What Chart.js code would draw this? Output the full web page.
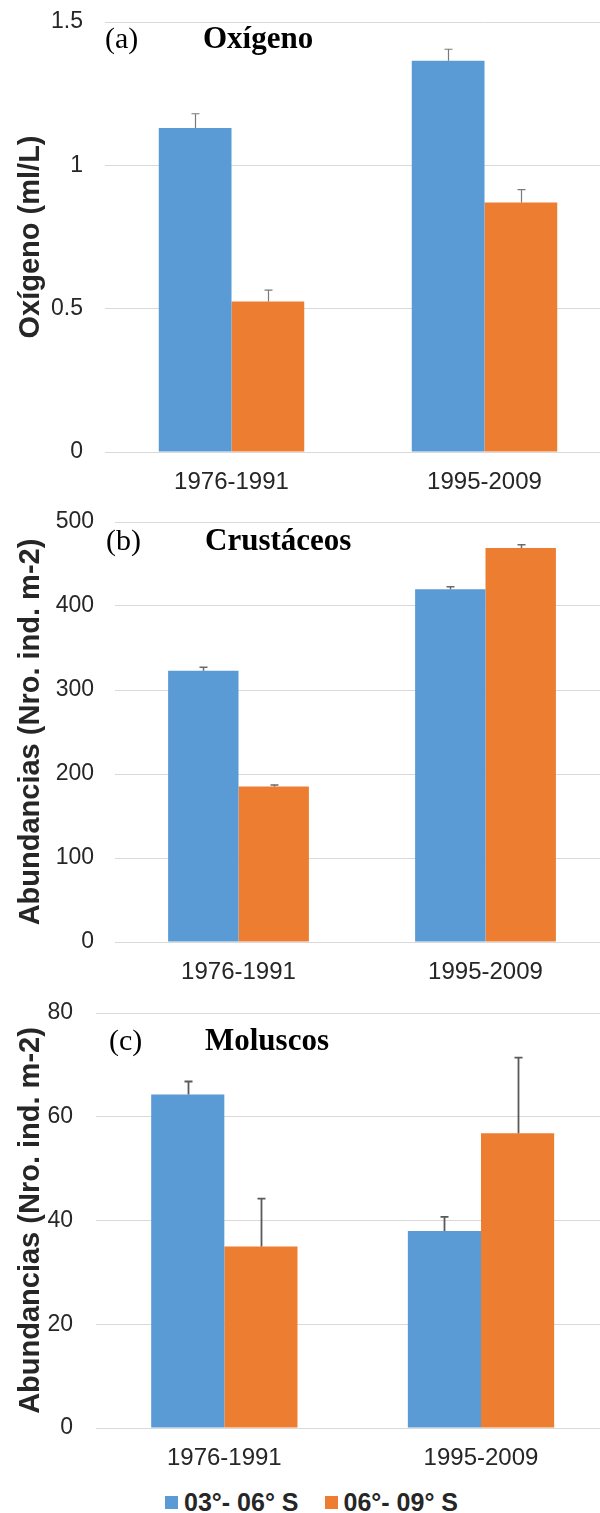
<!DOCTYPE html>
<html>
<head>
<meta charset="utf-8">
<script src="https://cdn.jsdelivr.net/npm/chart.js@4/dist/chart.umd.min.js"></script>
<style>
  html, body { margin: 0; padding: 0; background: #fff; width: 600px; height: 1513px; overflow: hidden; position: relative; }
  .panel { position: absolute; left: 0; }
  #legend { position: absolute; left: 165px; top: 1488px; display: flex; align-items: center;
            font: bold 25px "Liberation Sans", Arial, sans-serif; color: #262626; white-space: nowrap; }
  .item { display: flex; align-items: center; margin-right: 26px; }
  .swatch { width: 13px; height: 13px; margin-right: 6px; }
</style>
</head>
<body>
<div class="panel" style="top:0px"><canvas id="oxygen" width="864" height="500"></canvas></div>
<div class="panel" style="top:500px"><canvas id="crustaceans" width="856" height="490"></canvas></div>
<div class="panel" style="top:990px"><canvas id="molluscs" width="866" height="486"></canvas></div>
<div id="legend"></div>
<script>
// Sampling periods and latitude bands
const periods = ['1976-1991', '1995-2009'];
const seriesNames = ['03°- 06° S', '06°- 09° S'];
const seriesColors = ['#5b9bd5', '#ed7d31'];

// (a) dissolved oxygen, ml/L
const oxygenNorth = [1.13, 1.365];
const oxygenSouth = [0.525, 0.87];
const oxygenNorthErr = [0.05, 0.04];
const oxygenSouthErr = [0.04, 0.045];

// (b) crustacean abundance, ind. m-2
const crustNorth = [323, 420];
const crustSouth = [185, 469];
const crustNorthErr = [4, 3];
const crustSouthErr = [2, 4];

// (c) mollusc abundance, ind. m-2
const molluscNorth = [64.3, 38.0];
const molluscSouth = [35.0, 56.8];
const molluscNorthErr = [2.5, 2.7];
const molluscSouthErr = [9.2, 14.6];

const SANS = '"Liberation Sans", Arial, sans-serif';
const SERIF = '"Liberation Serif", "Times New Roman", serif';
const TEXT = '#262626';

// Upper error whiskers read from each dataset's errorValues
const errorBars = {
  id: 'errorBars',
  afterDatasetsDraw(chart, args, opts) {
    const { ctx } = chart;
    const yScale = chart.scales.y;
    chart.data.datasets.forEach((ds, di) => {
      const meta = chart.getDatasetMeta(di);
      meta.data.forEach((bar, i) => {
        const v = ds.data[i], e = ds.errorValues ? ds.errorValues[i] : null;
        if (v == null || e == null) return;
        const x = Math.round(bar.x) + 0.5;
        const y0 = yScale.getPixelForValue(v);
        const y1 = yScale.getPixelForValue(v + e);
        ctx.save();
        ctx.strokeStyle = opts.color;
        ctx.lineWidth = opts.width;
        ctx.beginPath();
        ctx.moveTo(x, y0); ctx.lineTo(x, y1);
        ctx.moveTo(x - 4, y1); ctx.lineTo(x + 4, y1);
        ctx.stroke();
        ctx.restore();
      });
    });
  }
};

// Panel tag and bold heading inside the plot
const panelLabel = {
  id: 'panelLabel',
  afterDraw(chart, args, opts) {
    const { ctx } = chart;
    ctx.save();
    ctx.fillStyle = '#000';
    ctx.textBaseline = 'alphabetic';
    ctx.textAlign = 'left';
    ctx.font = `30px ${SERIF}`;
    ctx.fillText(opts.tag, opts.tagX, opts.baseline);
    ctx.font = `bold 31px ${SERIF}`;
    ctx.fillText(opts.heading, opts.headingX, opts.baseline);
    ctx.restore();
  }
};

function makePanel(id, cfg) {
  return new Chart(document.getElementById(id), {
    type: 'bar',
    data: {
      // the empty trailing slot keeps the plot running past the right edge
      labels: [...periods, ''],
      datasets: [
        { label: seriesNames[0], data: cfg.north, errorValues: cfg.northErr, backgroundColor: seriesColors[0] },
        { label: seriesNames[1], data: cfg.south, errorValues: cfg.southErr, backgroundColor: seriesColors[1] }
      ]
    },
    options: {
      responsive: false,
      animation: false,
      layout: { padding: { top: cfg.padTop, left: 0, right: 0, bottom: 0 } },
      datasets: { bar: { categoryPercentage: cfg.catPct, barPercentage: 1.0, borderWidth: 0 } },
      plugins: {
        legend: { display: false },
        tooltip: { enabled: false },
        errorBars: { color: cfg.errColor, width: cfg.errWidth },
        panelLabel: { tag: cfg.tag, heading: cfg.heading, tagX: cfg.tagX, headingX: cfg.headingX, baseline: cfg.baseline }
      },
      scales: {
        x: {
          grid: { display: false, drawTicks: false },
          border: { display: false },
          ticks: { font: { family: SANS, size: 24 }, color: TEXT, padding: 16, maxRotation: 0, autoSkip: false },
          afterFit: s => { s.height = cfg.xAxisH; }
        },
        y: {
          min: 0, max: cfg.max,
          ticks: { stepSize: cfg.step, font: { family: SANS, size: 23 }, color: TEXT, padding: cfg.tickPad,
                   callback: v => String(+v.toFixed(2)) },
          grid: { color: '#d9d9d9', lineWidth: 1, drawTicks: false },
          border: { display: false },
          title: { display: true, text: cfg.yTitle, color: TEXT,
                   font: { family: SANS, size: 29, weight: 'bold' }, padding: { top: 14, bottom: 0 } },
          // fixed axis width; the top gap comes from layout padding alone
          afterFit: s => { s.width = cfg.leftW; s.paddingTop = 0; s.paddingBottom = 0; }
        }
      }
    },
    plugins: [errorBars, panelLabel]
  });
}

makePanel('oxygen', {
  north: oxygenNorth, south: oxygenSouth, northErr: oxygenNorthErr, southErr: oxygenSouthErr,
  max: 1.5, step: 0.5, yTitle: 'Oxígeno (ml/L)',
  padTop: 22, xAxisH: 48, leftW: 105, tickPad: 22, catPct: 0.575,
  errColor: '#7a7a7a', errWidth: 1.2,
  tag: '(a)', heading: 'Oxígeno', tagX: 105, headingX: 203, baseline: 48
});

makePanel('crustaceans', {
  north: crustNorth, south: crustSouth, northErr: crustNorthErr, southErr: crustSouthErr,
  max: 500, step: 100, yTitle: 'Abundancias (Nro. ind. m-2)',
  padTop: 22, xAxisH: 48, leftW: 115, tickPad: 21, catPct: 0.57,
  errColor: '#6a6a6a', errWidth: 1.5,
  tag: '(b)', heading: 'Crustáceos', tagX: 106, headingX: 205, baseline: 50
});

makePanel('molluscs', {
  north: molluscNorth, south: molluscSouth, northErr: molluscNorthErr, southErr: molluscSouthErr,
  max: 80, step: 20, yTitle: 'Abundancias (Nro. ind. m-2)',
  padTop: 23, xAxisH: 48, leftW: 96, tickPad: 23, catPct: 0.57,
  errColor: '#5a5a5a', errWidth: 1.8,
  tag: '(c)', heading: 'Moluscos', tagX: 109, headingX: 205, baseline: 60
});

// Shared legend for the two latitude bands
const legend = document.getElementById('legend');
seriesNames.forEach((name, i) => {
  const item = document.createElement('span');
  item.className = 'item';
  const sw = document.createElement('span');
  sw.className = 'swatch';
  sw.style.background = seriesColors[i];
  const label = document.createElement('span');
  label.textContent = name;
  item.appendChild(sw);
  item.appendChild(label);
  legend.appendChild(item);
});
</script>
</body>
</html>
